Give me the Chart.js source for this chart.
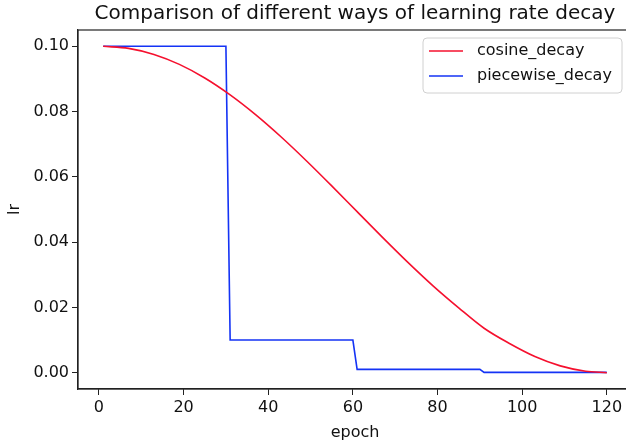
<!DOCTYPE html>
<html>
<head>
<meta charset="utf-8">
<script src="https://cdn.jsdelivr.net/npm/chart.js@4.4.1/dist/chart.umd.min.js"></script>
<style>
  html, body { margin: 0; padding: 0; background: #fff; overflow: hidden; }
  #wrap { width: 636px; height: 442px; }
</style>
</head>
<body>
<div id="wrap"><canvas id="lrChart"></canvas></div>
<script>
// cosine decay
var cosineEpochs = [1, 7, 13, 19, 25, 31, 37, 43, 49, 55, 61, 67, 73, 79, 85, 91, 97, 103, 109, 115, 120];
var cosineLr = [0.1, 0.09937, 0.09751, 0.09446, 0.09030, 0.08512, 0.07907, 0.07229, 0.06495, 0.05724,
                0.04934, 0.04146, 0.03380, 0.02654, 0.01987, 0.01361, 0.00894, 0.00495, 0.00209, 0.00044, 0.0];

// piecewise decay, step corners
var pieceEpochs = [1, 30, 31, 60, 61, 90, 91, 120];
var pieceLr = [0.1, 0.1, 0.01, 0.01, 0.001, 0.001, 0.0001, 0.0001];

var xTicks = [0, 20, 40, 60, 80, 100, 120];
var yTicks = [0, 0.02, 0.04, 0.06, 0.08, 0.10];

var seriesNames = ['cosine_decay', 'piecewise_decay'];
var seriesColors = ['#f5102e', '#1433f5'];
var titleText = 'Comparison of different ways of learning rate decay';

var FONT = 'DejaVu Sans';

function toPoints(xs, ys) {
    return xs.map(function (x, i) { return {x: x, y: ys[i]}; });
}

// title over the axes, box around them, matplotlib style legend
var framePlugin = {
    id: 'frame',
    afterDraw: function (chart) {
        var ctx = chart.ctx, a = chart.chartArea;
        ctx.save();
        ctx.strokeStyle = '#222';
        ctx.lineWidth = 1.2;
        ctx.strokeRect(a.left, a.top, a.right - a.left, a.bottom - a.top);

        ctx.fillStyle = '#111';
        ctx.font = '20px "' + FONT + '"';
        ctx.textAlign = 'center';
        ctx.textBaseline = 'middle';
        ctx.fillText(titleText, (a.left + a.right) / 2, 14);

        // legend
        var lx = 423, ly = 38, lw = 199, lh = 55, r = 4;
        ctx.beginPath();
        ctx.moveTo(lx + r, ly);
        ctx.arcTo(lx + lw, ly, lx + lw, ly + lh, r);
        ctx.arcTo(lx + lw, ly + lh, lx, ly + lh, r);
        ctx.arcTo(lx, ly + lh, lx, ly, r);
        ctx.arcTo(lx, ly, lx + lw, ly, r);
        ctx.closePath();
        ctx.fillStyle = 'rgba(255,255,255,0.8)';
        ctx.fill();
        ctx.strokeStyle = '#d0d0d0';
        ctx.lineWidth = 1;
        ctx.stroke();

        ctx.font = '16px "' + FONT + '"';
        ctx.textAlign = 'left';
        ctx.fillStyle = '#111';
        seriesNames.forEach(function (name, i) {
            var yy = 51 + i * 25;
            ctx.strokeStyle = seriesColors[i];
            ctx.lineWidth = 1.6;
            ctx.beginPath();
            ctx.moveTo(429, yy);
            ctx.lineTo(463, yy);
            ctx.stroke();
            ctx.fillText(name, 477, yy);
        });
        ctx.restore();
    }
};

var ctx = document.getElementById('lrChart').getContext('2d');
var lrChart = new Chart(ctx, {
    type: 'line',
    data: {
        datasets: [{
            label: seriesNames[0],
            data: toPoints(cosineEpochs, cosineLr),
            borderColor: seriesColors[0],
            borderWidth: 1.6,
            pointRadius: 0,
            cubicInterpolationMode: 'monotone',
            fill: false
        }, {
            label: seriesNames[1],
            data: toPoints(pieceEpochs, pieceLr),
            borderColor: seriesColors[1],
            borderWidth: 1.6,
            pointRadius: 0,
            tension: 0,
            fill: false
        }]
    },
    options: {
        responsive: true,
        maintainAspectRatio: false,
        animation: false,
        layout: {padding: {left: 0, right: 4, top: 30, bottom: 0}},
        plugins: {
            legend: {display: false},
            tooltip: {enabled: false},
            title: {display: false}
        },
        scales: {
            x: {
                type: 'linear',
                min: -4.95,
                max: 125.95,
                afterBuildTicks: function (axis) {
                    axis.ticks = xTicks.map(function (v) { return {value: v}; });
                },
                afterFit: function (axis) { axis.height = 53; },
                grid: {display: true, drawOnChartArea: false, drawTicks: true, tickLength: 6, color: '#222'},
                border: {display: true, color: '#222', width: 1.2},
                ticks: {color: '#111', padding: 3, maxRotation: 0,
                        font: {family: FONT, size: 16}},
                title: {display: true, text: 'epoch', color: '#111',
                        font: {family: FONT, size: 16}, padding: {top: 0, bottom: 0}}
            },
            y: {
                type: 'linear',
                min: -0.005,
                max: 0.105,
                afterBuildTicks: function (axis) {
                    axis.ticks = yTicks.map(function (v) { return {value: v}; });
                },
                afterFit: function (axis) { axis.width = 78; },
                grid: {display: true, drawOnChartArea: false, drawTicks: true, tickLength: 6, color: '#222'},
                border: {display: true, color: '#222', width: 1.2},
                ticks: {color: '#111', padding: 3,
                        font: {family: FONT, size: 16},
                        callback: function (v) { return v.toFixed(2); }},
                title: {display: true, text: 'lr', color: '#111',
                        font: {family: FONT, size: 16}, padding: {top: 5, bottom: 0}}
            }
        }
    },
    plugins: [framePlugin]
});
</script>
</body>
</html>
